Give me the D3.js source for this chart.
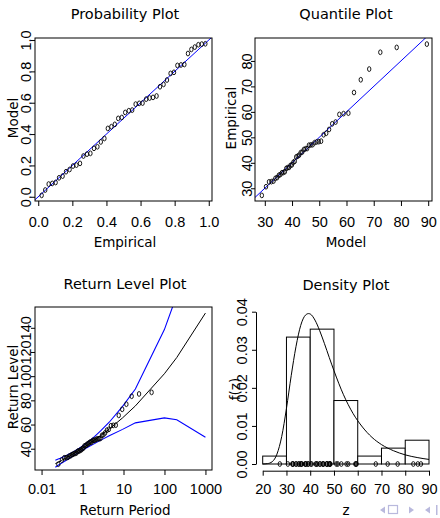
<!DOCTYPE html>
<html>
<head>
<meta charset="utf-8">
<title>GEV Diagnostic Plots</title>
<script src="https://d3js.org/d3.v7.min.js"></script>
<style>
  body { margin: 0; background: #fff; }
</style>
</head>
<body>
<svg width="440" height="518"></svg>
<script>
// sorted annual maxima (48 obs)
const sortedData = [27.2, 30.6, 32.5, 32.6, 32.8, 33.9, 34.2, 35.1, 35.4, 36.1, 36.2, 36.5,
  37.8, 38.1, 38.2, 39.0, 39.2, 40.2, 40.6, 42.3, 42.6, 43.0, 44.0, 44.2, 45.2, 45.5, 45.6,
  46.9, 47.0, 47.1, 47.9, 48.2, 48.3, 48.5, 51.0, 51.6, 53.1, 55.3, 56.0, 59.0, 59.3, 59.5,
  67.6, 72.6, 76.8, 83.4, 85.3, 86.6];

// probability plot
const probEmpirical = [0.020, 0.041, 0.061, 0.082, 0.102, 0.122, 0.143, 0.163, 0.184, 0.204,
  0.224, 0.245, 0.265, 0.286, 0.306, 0.327, 0.347, 0.367, 0.388, 0.408, 0.429, 0.449, 0.469,
  0.490, 0.510, 0.531, 0.551, 0.571, 0.592, 0.612, 0.633, 0.653, 0.673, 0.694, 0.714, 0.735,
  0.755, 0.776, 0.796, 0.816, 0.837, 0.857, 0.878, 0.898, 0.918, 0.939, 0.959, 0.980];
const probModel = [0.009, 0.043, 0.081, 0.085, 0.091, 0.121, 0.132, 0.160, 0.174, 0.196,
  0.202, 0.213, 0.260, 0.272, 0.277, 0.309, 0.319, 0.350, 0.372, 0.436, 0.447, 0.462, 0.500,
  0.506, 0.538, 0.549, 0.553, 0.591, 0.596, 0.598, 0.623, 0.630, 0.634, 0.643, 0.702, 0.717,
  0.745, 0.787, 0.794, 0.838, 0.841, 0.844, 0.914, 0.940, 0.955, 0.970, 0.974, 0.976];
const probTicks = [0, 0.2, 0.4, 0.6, 0.8, 1.0];
const probTickLabels = ["0.0", "0.2", "0.4", "0.6", "0.8", "1.0"];

// quantile plot
const quantModel = [28.91, 30.44, 31.53, 32.42, 33.19, 33.89, 34.53, 35.15, 35.73, 36.29,
  36.83, 37.37, 37.89, 38.42, 38.93, 39.45, 39.97, 40.49, 41.01, 41.54, 42.08, 42.62, 43.18,
  43.75, 44.33, 44.93, 45.55, 46.19, 46.86, 47.55, 48.28, 49.04, 49.84, 50.69, 51.59, 52.56,
  53.61, 54.74, 55.99, 57.37, 58.92, 60.70, 62.76, 65.24, 68.34, 72.42, 78.44, 89.51];
const quantXTicks = [30, 40, 50, 60, 70, 80, 90];
const quantYTicks = [30, 40, 50, 60, 70, 80];

// return level plot
const rlPointPeriod = [0.257, 0.313, 0.358, 0.399, 0.438, 0.476, 0.514, 0.552, 0.590, 0.629,
  0.669, 0.711, 0.754, 0.798, 0.845, 0.894, 0.945, 0.999, 1.056, 1.116, 1.180, 1.249, 1.322,
  1.401, 1.486, 1.578, 1.678, 1.787, 1.907, 2.038, 2.184, 2.347, 2.530, 2.737, 2.972, 3.244,
  3.560, 3.934, 4.382, 4.929, 5.612, 6.489, 7.657, 9.294, 11.751, 15.823, 23.98, 48.54];
const rlCurvePeriod = [0.2171, 0.2556, 0.2852, 0.3107, 0.3338, 0.3554, 0.3760, 0.3959, 0.4153,
  0.4343, 0.6213, 0.8306, 1.0913, 1.4427, 1.9576, 2.8037, 4.4814, 9.4912, 19.496, 99.499,
  199.5, 999.5];
const rlCurveLevel = [27.62, 28.86, 29.72, 30.39, 30.96, 31.47, 31.93, 32.35, 32.75, 33.12,
  36.18, 38.78, 41.33, 44.04, 47.13, 50.96, 56.25, 65.51, 75.40, 101.99, 115.40, 152.17];
const rlUpper = [30.5, 31.5, 32.1, 32.7, 33.2, 33.6, 33.9, 34.3, 34.7, 35.0, 37.8, 40.4, 43.1,
  46.2, 50.0, 54.9, 61.9, 75.0, 89.4, 138.5, 166.9, 254.9];
const rlLower = [24.7, 26.3, 27.3, 28.1, 28.8, 29.4, 29.9, 30.4, 30.9, 31.3, 34.6, 37.2, 39.5,
  41.8, 44.2, 47.1, 50.7, 56.0, 61.4, 65.5, 63.9, 49.5];
const rlXTicks = [0.1, 1, 10, 100, 1000];
const rlXTickLabels = ["0.01", "1", "10", "100", "1000"];
const rlYTicks = [40, 60, 80, 100, 120, 140];

// density plot
const histBreaks = [20, 30, 40, 50, 60, 70, 80, 90];
const histDensity = [0.00208, 0.03333, 0.03542, 0.01667, 0.00208, 0.00417, 0.00625];
const densZ = [20, 22, 24, 26, 28, 30, 32, 34, 36, 38, 39.3, 40, 42, 44, 46, 48, 50, 54, 58,
  62, 66, 70, 75, 80, 85, 90];
const densF = [0.0000, 0.0001, 0.0006, 0.0026, 0.0072, 0.0146, 0.0232, 0.0308, 0.0364, 0.0391,
  0.0395, 0.0394, 0.0378, 0.0350, 0.0316, 0.0280, 0.0245, 0.0182, 0.0133, 0.0097, 0.0070,
  0.0051, 0.0035, 0.0024, 0.0017, 0.0012];
const densXTicks = [20, 30, 40, 50, 60, 70, 80, 90];
const densYTicks = [0, 0.01, 0.02, 0.03, 0.04];

const svg = d3.select("svg");
const labelFont = "DejaVu Sans, sans-serif";
const tickFont = "Liberation Sans, Arial, sans-serif";
const blue = "#0000ff";

function title(x, y, txt, size) {
  svg.append("text").attr("x", x).attr("y", y).attr("text-anchor", "middle")
    .attr("font-family", labelFont).attr("font-size", size || 13.5).text(txt);
}
function yTitle(x, y, txt) {
  svg.append("text").attr("transform", `translate(${x},${y}) rotate(-90)`)
    .attr("text-anchor", "middle").attr("font-family", labelFont)
    .attr("font-size", 13.5).text(txt);
}
function bottomAxis(scale, ticks, labels, yPos, labelY, keepDomain) {
  const g = svg.append("g").attr("transform", `translate(0,${yPos})`)
    .call(d3.axisBottom(scale).tickValues(ticks)
      .tickFormat((d, i) => labels ? labels[i] : d).tickSize(5).tickSizeOuter(0));
  if (!keepDomain) g.select(".domain").remove();
  g.selectAll("text").attr("y", labelY).attr("dy", null)
    .attr("font-family", tickFont).attr("font-size", 14.5).attr("fill", "#000");
  return g;
}
function leftAxis(scale, ticks, labels, xPos, gap, keepDomain) {
  const g = svg.append("g").attr("transform", `translate(${xPos},0)`)
    .call(d3.axisLeft(scale).tickValues(ticks)
      .tickFormat((d, i) => labels ? labels[i] : d).tickSize(4).tickSizeOuter(0));
  if (!keepDomain) g.select(".domain").remove();
  g.selectAll("text").attr("x", 0).attr("y", -gap).attr("dy", null)
    .attr("transform", "rotate(-90)").attr("text-anchor", "middle")
    .attr("font-family", tickFont).attr("font-size", 14.5).attr("fill", "#000");
  return g;
}
function box(b) {
  svg.append("rect").attr("x", b.l).attr("y", b.t).attr("width", b.r - b.l)
    .attr("height", b.b - b.t).attr("fill", "none").attr("stroke", "#000").attr("stroke-width", 1);
}
function clip(id, b) {
  svg.append("clipPath").attr("id", id).append("rect")
    .attr("x", b.l).attr("y", b.t).attr("width", b.r - b.l).attr("height", b.b - b.t);
}
function glyphs(g, xs, ys, x, y) {
  g.selectAll("ellipse.pt").data(xs).join("ellipse").attr("class", "pt")
    .attr("cx", d => x(d)).attr("cy", (d, i) => y(ys[i]))
    .attr("rx", 1.7).attr("ry", 2.4)
    .attr("fill", "none").attr("stroke", "#000").attr("stroke-width", 0.9);
}

// ---- Probability Plot ----
const b1 = { l: 35, r: 212, t: 38, b: 201 };
const x1 = d3.scaleLinear().domain([-0.019, 1.019]).range([b1.l, b1.r]);
const y1 = d3.scaleLinear().domain([-0.027, 1.013]).range([b1.b, b1.t]);
clip("c1", b1);
const g1 = svg.append("g").attr("clip-path", "url(#c1)");
g1.append("line").attr("x1", x1(-0.05)).attr("y1", y1(-0.05)).attr("x2", x1(1.05)).attr("y2", y1(1.05))
  .attr("stroke", blue).attr("stroke-width", 1);
glyphs(g1, probEmpirical, probModel, x1, y1);
box(b1);
bottomAxis(x1, probTicks, probTickLabels, b1.b, 25.5);
leftAxis(y1, probTicks, probTickLabels, b1.l, 4);
title(125, 19, "Probability Plot", 14.5);
title(125, 247, "Empirical");
yTitle(18, 118, "Model");

// ---- Quantile Plot ----
const b2 = { l: 255, r: 432, t: 38, b: 201 };
const x2 = d3.scaleLinear().domain([26.4, 91.4]).range([b2.l, b2.r]);
const y2 = d3.scaleLinear().domain([25.0, 89.0]).range([b2.b, b2.t]);
clip("c2", b2);
const g2 = svg.append("g").attr("clip-path", "url(#c2)");
g2.append("line").attr("x1", x2(20)).attr("y1", y2(20)).attr("x2", x2(95)).attr("y2", y2(95))
  .attr("stroke", blue).attr("stroke-width", 1);
glyphs(g2, quantModel, sortedData, x2, y2);
box(b2);
bottomAxis(x2, quantXTicks, null, b2.b, 25.5);
leftAxis(y2, quantYTicks, null, b2.l, 3);
title(346, 19, "Quantile Plot", 14.5);
title(346, 247, "Model");
yTitle(236, 118, "Empirical");

// ---- Return Level Plot ----
const b3 = { l: 35, r: 212, t: 307, b: 470 };
const x3 = d3.scaleLog().domain([Math.pow(10, -1.16), Math.pow(10, 3.16)]).range([b3.l, b3.r]);
const y3 = d3.scaleLinear().domain([22.4, 157.2]).range([b3.b, b3.t]);
clip("c3", b3);
const g3 = svg.append("g").attr("clip-path", "url(#c3)");
const rlLine = arr => d3.line().x((d, i) => x3(rlCurvePeriod[i])).y((d, i) => y3(arr[i]))(arr);
g3.append("path").attr("d", rlLine(rlCurveLevel)).attr("fill", "none")
  .attr("stroke", "#000").attr("stroke-width", 1);
g3.append("path").attr("d", rlLine(rlUpper)).attr("fill", "none")
  .attr("stroke", blue).attr("stroke-width", 1.1);
g3.append("path").attr("d", rlLine(rlLower)).attr("fill", "none")
  .attr("stroke", blue).attr("stroke-width", 1.1);
glyphs(g3, rlPointPeriod, sortedData, x3, y3);
box(b3);
bottomAxis(x3, rlXTicks, rlXTickLabels, b3.b, 24);
leftAxis(y3, rlYTicks, null, b3.l, 4);
title(125, 289, "Return Level Plot", 14.5);
title(125, 515, "Return Period");
yTitle(17.5, 387, "Return Level");

// ---- Density Plot ----
const x4 = d3.scaleLinear().domain([20, 90]).range([262.7, 429]);
const y4 = d3.scaleLinear().domain([0, 0.04]).range([464, 311.7]);
const g4 = svg.append("g");
g4.selectAll("rect.bar").data(histDensity).join("rect").attr("class", "bar")
  .attr("x", (d, i) => x4(histBreaks[i])).attr("width", (d, i) => x4(histBreaks[i + 1]) - x4(histBreaks[i]))
  .attr("y", d => y4(d)).attr("height", d => y4(0) - y4(d))
  .attr("fill", "#fff").attr("stroke", "#000").attr("stroke-width", 1);
g4.append("path")
  .attr("d", d3.line().curve(d3.curveMonotoneX).x((d, i) => x4(densZ[i])).y(d => y4(d))(densF))
  .attr("fill", "none").attr("stroke", "#000").attr("stroke-width", 1);
glyphs(g4, sortedData, sortedData.map(() => 0), x4, y4);
bottomAxis(x4, densXTicks, null, 470.7, 23.3, true);
leftAxis(y4, densYTicks, densYTicks.map(d => d.toFixed(2)), 256, 9, true);
title(346, 290, "Density Plot", 14.5);
title(346, 515, "z");
yTitle(240, 389, "f(z)");

// beamer navigation symbols
const nav = svg.append("g").attr("fill", "#b9b9dd").attr("stroke", "#b9b9dd");
nav.append("path").attr("d", "M380,510 l5,-3.5 v7 z").attr("stroke", "none");
nav.append("rect").attr("x", 388.5).attr("y", 505.5).attr("width", 9).attr("height", 8).attr("fill", "none").attr("stroke-width", 1.2);
nav.append("path").attr("d", "M409,506.5 l5,3.5 l-5,3.5 z").attr("stroke", "none");
nav.append("path").attr("d", "M425,510 l5,-3.5 v7 z").attr("stroke", "none");
nav.append("rect").attr("x", 436).attr("y", 505).attr("width", 1.5).attr("height", 10).attr("stroke", "none");
</script>
</body>
</html>
